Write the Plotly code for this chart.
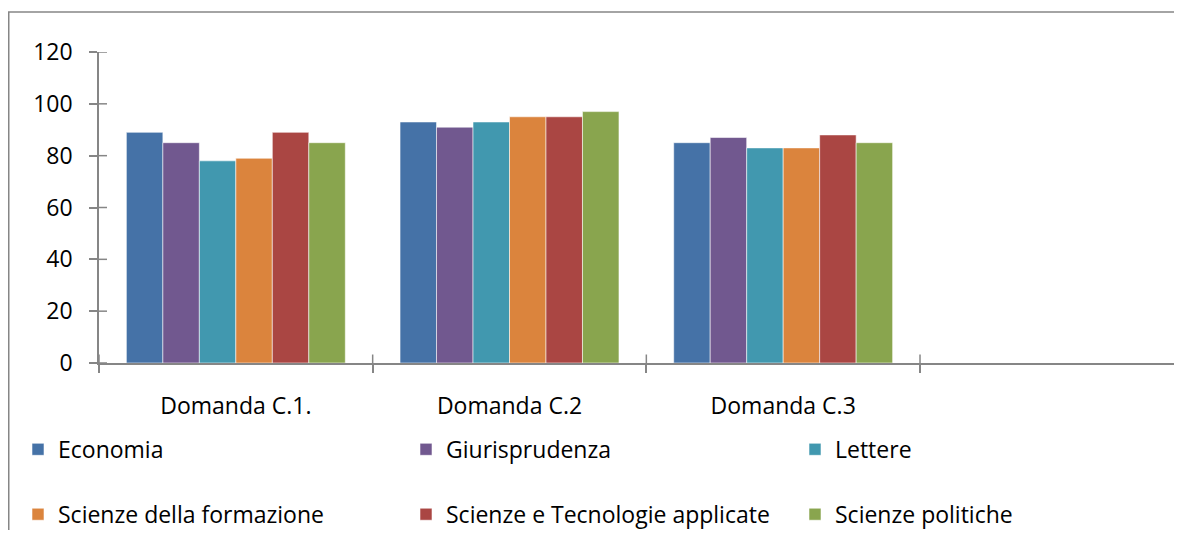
import plotly.graph_objects as go

categories = ["Domanda C.1.", "Domanda C.2", "Domanda C.3"]
series_names = ["Economia", "Giurisprudenza", "Lettere",
                "Scienze della formazione", "Scienze e Tecnologie applicate", "Scienze politiche"]
economia = [89, 93, 85]
giurisprudenza = [85, 91, 87]
lettere = [78, 93, 83]
formazione = [79, 95, 83]
tecnologie = [89, 95, 88]
politiche = [85, 97, 85]
series_values = [economia, giurisprudenza, lettere, formazione, tecnologie, politiche]
colors = ["#4572A7", "#71588F", "#4198AF", "#DB843D", "#AA4643", "#89A54E"]
y_ticks = [0, 20, 40, 60, 80, 100, 120]

FONT = "Open Sans"
FS = 23
AX = "#868686"

# the page body adds an 8px margin, so the figure is sized/offset to compensate
W, H = 1166, 522
ml, mt = 91, 44
plot_bottom = 355.5
mb = H - plot_bottom
plot_w = W - ml
plot_h = H - mt - mb
cat_w = 273.67
x_right = -0.5 + plot_w / cat_w

# legend grid (pixel anchors of each entry inside the figure: left edge, row centre)
leg_cols_px = [10, 398, 787]
leg_rows_px = [442, 507]

fig = go.Figure()
legend_layout = {}
for i, (name, vals, col) in enumerate(zip(series_names, series_values, colors)):
    lname = "legend" if i == 0 else f"legend{i + 1}"
    fig.add_trace(go.Bar(
        x=categories, y=vals, name=name,
        marker=dict(color=col, line=dict(color="rgba(255,255,255,0.55)", width=1)),
        legend=lname,
    ))
    r, c = divmod(i, 3)
    legend_layout[lname] = dict(
        orientation="h", xanchor="left", yanchor="middle",
        x=(leg_cols_px[c] - ml) / plot_w,
        y=-(leg_rows_px[r] - plot_bottom) / plot_h,
        font=dict(family=FONT, size=FS, color="#000000"),
        bgcolor="rgba(0,0,0,0)", itemclick=False, itemdoubleclick=False,
    )

shapes = []
# chart border
shapes.append(dict(type="rect", xref="paper", yref="paper",
                   x0=(0.75 - ml) / plot_w, x1=1.05, y0=-1.2, y1=1 + (mt - 4) / plot_h,
                   line=dict(color=AX, width=1.5), fillcolor="rgba(0,0,0,0)", layer="below"))
# inner halves of crossing ticks (y axis)
for v in y_ticks:
    shapes.append(dict(type="line", xref="x", yref="y", xsizemode="pixel", xanchor=-0.5,
                       x0=0, x1=8, y0=v, y1=v, line=dict(color=AX, width=1.5)))
# inner halves of crossing ticks (x axis, category boundaries)
for k in range(len(categories) + 1):
    shapes.append(dict(type="line", xref="x", yref="y", ysizemode="pixel", yanchor=0,
                       x0=k - 0.5, x1=k - 0.5, y0=0, y1=8.5, line=dict(color=AX, width=1.5)))

fig.update_layout(
    width=W, height=H,
    margin=dict(l=ml, r=0, t=mt, b=mb, pad=0, autoexpand=False),
    paper_bgcolor="white", plot_bgcolor="white",
    barmode="group", bargap=0.2, bargroupgap=0,
    font=dict(family=FONT, size=FS, color="#000000"),
    shapes=shapes,
    xaxis=dict(type="category", range=[-0.5, x_right], tickson="boundaries",
               ticks="outside", ticklen=8.5, tickwidth=1.5, tickcolor=AX,
               showline=True, linecolor=AX, linewidth=1.5, showgrid=False, zeroline=False,
               ticklabelstandoff=22, tickfont=dict(family=FONT, size=FS, color="#000000")),
    yaxis=dict(range=[0, 120], tickvals=y_ticks, ticks="outside", ticklen=8, tickwidth=1.5,
               tickcolor=AX, showline=True, linecolor=AX, linewidth=1.5, showgrid=False,
               zeroline=False, ticklabelstandoff=12,
               tickfont=dict(family=FONT, size=FS, color="#000000")),
    showlegend=True,
    **legend_layout,
)

fig.write_html("out.html")
